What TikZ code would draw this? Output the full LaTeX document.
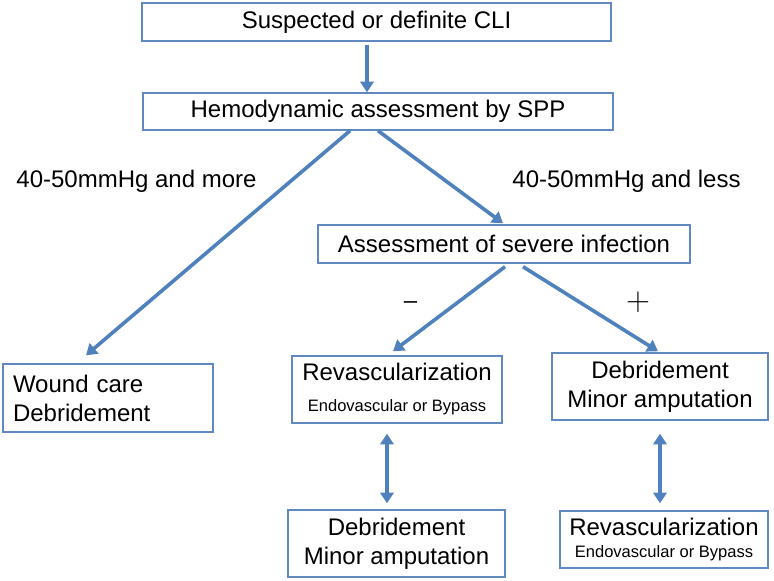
\documentclass[tikz,border=0pt]{standalone}
\usepackage{fontspec}
\setmainfont{Liberation Sans}
\usepackage{tikz}
\usetikzlibrary{calc}
\usetikzlibrary{positioning}
\usetikzlibrary{arrows.meta}
\definecolor{boxblue}{RGB}{96,137,194}
\definecolor{arrblue}{RGB}{79,129,189}
\newcommand{\flowtxt}{\fontsize{18}{21.75}\selectfont}
\newcommand{\subtxt}{\fontsize{12.4}{14}\selectfont}
\tikzset{
  flowbox/.style = {draw=boxblue, line width=1.1pt, inner sep=1pt, align=center,
    font=\flowtxt},
  link/.style = {draw=arrblue, line width=2.7pt, -{Triangle[width=10pt,length=8pt]}},
  duallink/.style = {draw=arrblue, line width=2.7pt,
    {Triangle[width=10pt,length=8pt]}-{Triangle[width=10pt,length=8pt]}},
  cond/.style = {font=\flowtxt, inner sep=0pt},
  sign/.style = {font=\fontsize{27}{31}\selectfont, inner sep=0pt},
}

\begin{document}
\begin{tikzpicture}[x=0.75pt,y=-0.75pt]
                    \useasboundingbox (0,0) rectangle (774,581);

                    \node[flowbox, minimum width=351.75pt, minimum height=28.5pt] (cli) at (376.5,22) {Suspected or definite CLI};
                    \node[flowbox, minimum width=352.5pt, minimum height=27.75pt] (spp) at (378,111.5) {Hemodynamic assessment by SPP};
                    \node[flowbox, minimum width=279pt, minimum height=28.5pt] (infect) at (504,244) {Assessment of severe infection};
                    \node[flowbox, align=left, text width=142.5pt, inner xsep=7.5pt, minimum height=51pt] (wound) at (108,398) {Wound care\\Debridement};
                    \node[flowbox, minimum width=157.5pt, minimum height=50.25pt] (revasc) at (397,389.5) {Revascularization\\[1.5pt]{\subtxt Endovascular or Bypass}};
                    \node[flowbox, minimum width=162pt, minimum height=50.25pt] (debr) at (660,386.5) {Debridement\\Minor amputation};
                    \node[flowbox, minimum width=162.75pt, minimum height=50.25pt] (debrb) at (396.5,543.5) {Debridement\\Minor amputation};
                    \node[flowbox, minimum width=156pt, minimum height=42.75pt] (revascb) at (664,539.5) {Revascularization\\[-5pt]{\subtxt Endovascular or Bypass}};

                    \node[cond] (more) at (136.5,181) {40-50mmHg and more};
                    \node[cond] (less) at (626.5,181) {40-50mmHg and less};
                    \node[cond] (neg) at (410.5,305) {--};
                    \node[sign] (pos) at (638,302) {$+$};

                    \path[link] ($(cli.south)+(-9.5,3)$) -- ($(spp.north)+(-11,0)$);
                    \path[link] ($(spp.south)+(-28,0)$) -- ($(wound.north)+(-22,-8)$);
                    \path[link] (spp.south) -- ($(infect.north)+(-1,-1)$);
                    \path[link] ($(infect.south)+(1,3)$) -- ($(revasc.north)+(-4,-4)$);
                    \path[link] ($(infect.south)+(19,3)$) -- ($(debr.north)+(-2,-1)$);
                    \path[duallink] ($(revasc.south)+(-10,10)$) -- ($(debrb.north)+(-9.5,-6)$);
                    \path[duallink] ($(debr.south)+(0,13)$) -- ($(revascb.north)+(-4,-7)$);
                \end{tikzpicture}
\end{document}
